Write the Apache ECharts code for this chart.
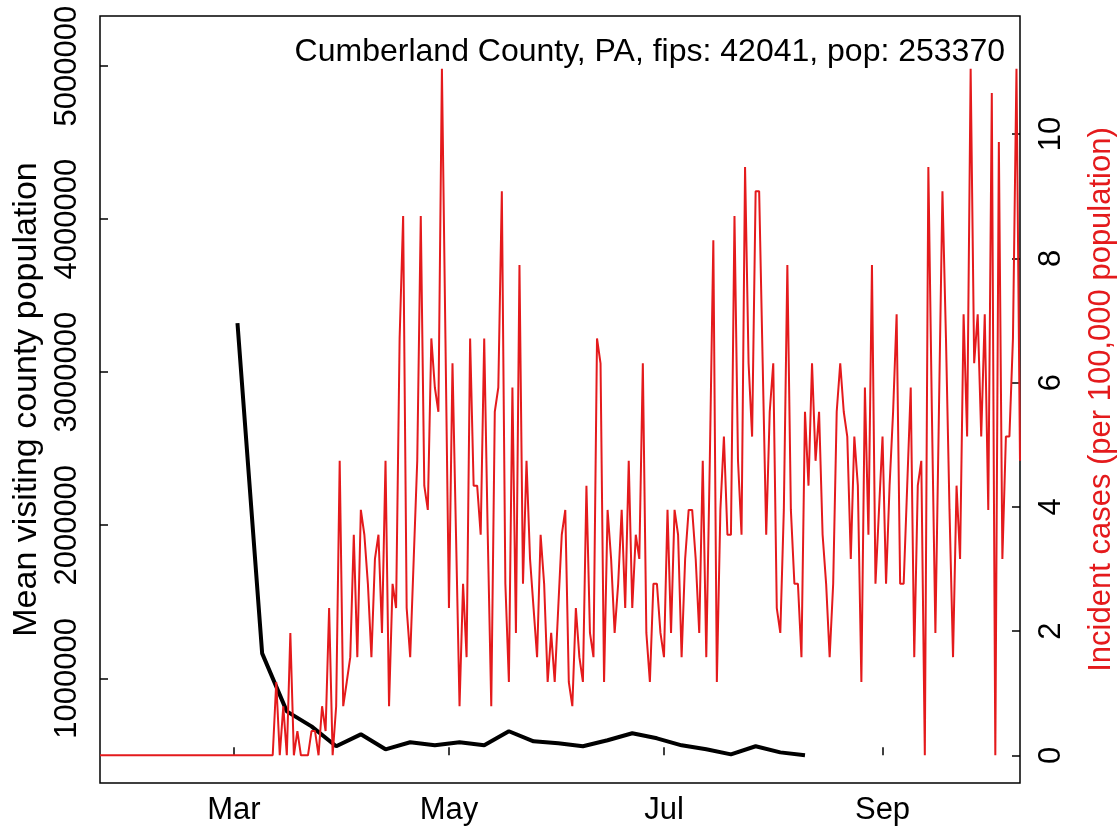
<!DOCTYPE html>
<html>
<head>
<meta charset="utf-8">
<script src="https://cdn.jsdelivr.net/npm/echarts@6/dist/echarts.min.js"></script>
<style>
  html, body { margin: 0; padding: 0; background: #fff; }
  #chart { width: 1118px; height: 828px; }
</style>
</head>
<body>
<div id="chart"></div>
<script>
// x positions are day-of-year 2020 (Jan 1 = 0)
var monthTickDays = [60, 121, 182, 244];
var monthTickLabels = ['Mar', 'May', 'Jul', 'Sep'];
var popTicks = [1000000, 2000000, 3000000, 4000000, 5000000];
var incTicks = [0, 2, 4, 6, 8, 10];

// weekly mean visiting county population
var weekDates = ['2020-03-02', '2020-03-09', '2020-03-16', '2020-03-23', '2020-03-30', '2020-04-06',
                 '2020-04-13', '2020-04-20', '2020-04-27', '2020-05-04', '2020-05-11', '2020-05-18',
                 '2020-05-25', '2020-06-01', '2020-06-08', '2020-06-15', '2020-06-22', '2020-06-29',
                 '2020-07-06', '2020-07-13', '2020-07-20', '2020-07-27', '2020-08-03', '2020-08-10'];
var visitPop = [3320000, 1163000, 784000, 686000, 556000, 634000,
                536000, 582000, 562000, 582000, 562000, 654000,
                588000, 575000, 556000, 595000, 641000, 608000,
                562000, 536000, 503000, 556000, 516000, 497000];

// daily incident cases per 100,000, from 2020-01-23
var incStartDate = '2020-01-23';
var incJan = [0, 0, 0, 0, 0, 0, 0, 0, 0];
var incFeb = [0, 0, 0, 0, 0, 0, 0, 0, 0, 0, 0, 0, 0, 0, 0, 0, 0, 0, 0, 0, 0, 0, 0, 0, 0, 0, 0, 0, 0];
var incMar = [0, 0, 0, 0, 0, 0, 0, 0, 0, 0, 0, 0,
              1.18, 0, 0.79, 0, 1.97, 0, 0.39, 0, 0, 0, 0.39, 0.39, 0, 0.79, 0.39, 2.37, 0, 0.79, 4.74];
var incApr = [0.79, 1.18, 1.58, 3.55, 1.58, 3.95, 3.55, 2.76, 1.58, 3.16,
              3.55, 1.97, 4.74, 0.79, 2.76, 2.37, 6.71, 8.68, 2.37, 1.58,
              3.16, 4.74, 8.68, 4.34, 3.95, 6.71, 5.92, 5.53, 11.05, 6.71];
var incMay = [2.37, 6.31, 3.55, 0.79, 2.76, 1.58, 6.71, 4.34, 4.34, 3.55,
              6.71, 3.55, 0.79, 5.53, 5.92, 9.08, 2.76, 1.18, 5.92, 1.97,
              7.89, 2.76, 4.74, 3.16, 2.37, 1.58, 3.55, 2.76, 1.18, 1.97, 1.18];
var incJun = [2.37, 3.55, 3.95, 1.18, 0.79, 2.37, 1.58, 1.18, 4.34,
              1.97, 1.58, 6.71, 6.31, 1.18, 3.95, 3.16, 1.97, 2.76, 3.95,
              2.37, 4.74, 2.37, 3.55, 3.16, 6.31, 1.97, 1.18, 2.76, 2.76, 1.97];
var incJul = [1.58, 3.95, 1.97, 3.95, 3.55, 1.58, 3.16, 3.95, 3.95,
              3.16, 1.97, 4.74, 1.58, 4.74, 8.29, 1.18, 3.95, 5.13, 3.55,
              3.55, 8.68, 4.74, 3.55, 9.47, 6.31, 5.13, 9.08, 9.08, 6.31, 3.55, 5.53];
var incAug = [6.31, 2.37, 1.97, 3.95, 7.89, 3.95, 2.76, 2.76,
              1.58, 5.53, 4.34, 6.31, 4.74, 5.53, 3.55, 2.76, 1.58, 2.76,
              5.53, 6.31, 5.53, 5.13, 3.16, 5.13, 4.34, 1.18, 5.92, 3.55, 7.89, 2.76, 3.95];
var incSep = [5.13, 2.76, 4.34, 5.53, 7.10, 2.76, 2.76,
              4.34, 5.92, 1.58, 4.34, 4.74, 0, 9.47, 5.53, 1.97, 5.53,
              9.08, 6.71, 3.95, 1.58, 4.34, 3.16, 7.10, 5.13, 11.05, 6.31, 7.10, 5.13, 7.10];
var incOct = [3.95, 10.66, 0, 9.87, 3.16, 5.13, 5.13, 6.71, 11.05, 4.74];

var titleText = 'Cumberland County, PA, fips: 42041, pop: 253370';

function dayOfYear(s) {
    var d = new Date(s + 'T00:00:00Z');
    return Math.round((d - Date.UTC(2020, 0, 1)) / 86400000);
}

var incAll = [].concat(incJan, incFeb, incMar, incApr, incMay, incJun, incJul, incAug, incSep, incOct);
var startDay = dayOfYear(incStartDate);
var incData = incAll.map(function (v, i) { return [startDay + i, v]; });
var visitData = weekDates.map(function (d, i) { return [dayOfYear(d), visitPop[i]]; });

var font = 'Liberation Sans, Arial, Helvetica, sans-serif';
var red = '#E41A1C';
var tickStyle = { color: '#000', width: 1.5 };

var chart = echarts.init(document.getElementById('chart'), null, { renderer: 'canvas' });
chart.setOption({
    animation: false,
    backgroundColor: '#fff',
    grid: {
        left: 100, right: 98, top: 16, bottom: 45,
        outerBoundsMode: 'none', containLabel: false,
        show: true, borderColor: '#000', borderWidth: 1.5, backgroundColor: 'transparent'
    },
    xAxis: {
        type: 'value',
        min: startDay,
        max: startDay + incAll.length - 1,
        splitLine: { show: false },
        axisLine: { show: false },
        axisTick: { show: true, inside: true, length: 8, customValues: monthTickDays, lineStyle: tickStyle },
        axisLabel: {
            customValues: monthTickDays,
            margin: 12,
            color: '#000', fontSize: 31, fontFamily: font,
            formatter: function (v) { return monthTickLabels[monthTickDays.indexOf(v)]; }
        }
    },
    yAxis: [{
        type: 'value',
        position: 'left',
        min: 316000,
        max: 5327000,
        name: 'Mean visiting county population',
        nameLocation: 'middle',
        nameRotate: 90,
        nameGap: 53,
        nameTextStyle: { color: '#000', fontSize: 34, fontFamily: font },
        splitLine: { show: false },
        axisLine: { show: false },
        axisTick: { show: true, inside: true, length: 8, customValues: popTicks, lineStyle: tickStyle },
        axisLabel: {
            customValues: popTicks,
            rotate: 90, margin: 17,
            color: '#000', fontSize: 31, fontFamily: font,
            formatter: function (v) { return String(v); }
        }
    }, {
        type: 'value',
        position: 'right',
        min: -0.446,
        max: 11.9,
        name: 'Incident cases (per 100,000 population)',
        nameLocation: 'middle',
        nameRotate: 90,
        nameGap: 66,
        nameTextStyle: { color: red, fontSize: 31, fontFamily: font },
        splitLine: { show: false },
        axisLine: { show: false },
        axisTick: { show: true, inside: true, length: 8, customValues: incTicks, lineStyle: tickStyle },
        axisLabel: {
            customValues: incTicks,
            rotate: 90, margin: 16,
            color: '#000', fontSize: 31, fontFamily: font
        }
    }],
    graphic: [{
        type: 'text',
        right: 113,
        top: 36,
        style: { text: titleText, fill: '#000', font: '32px ' + font }
    }],
    series: [{
        type: 'line',
        yAxisIndex: 0,
        data: visitData,
        showSymbol: false,
        lineStyle: { color: '#000', width: 4 },
        z: 2
    }, {
        type: 'line',
        yAxisIndex: 1,
        data: incData,
        showSymbol: false,
        lineStyle: { color: red, width: 2 },
        z: 3
    }]
});
</script>
</body>
</html>
